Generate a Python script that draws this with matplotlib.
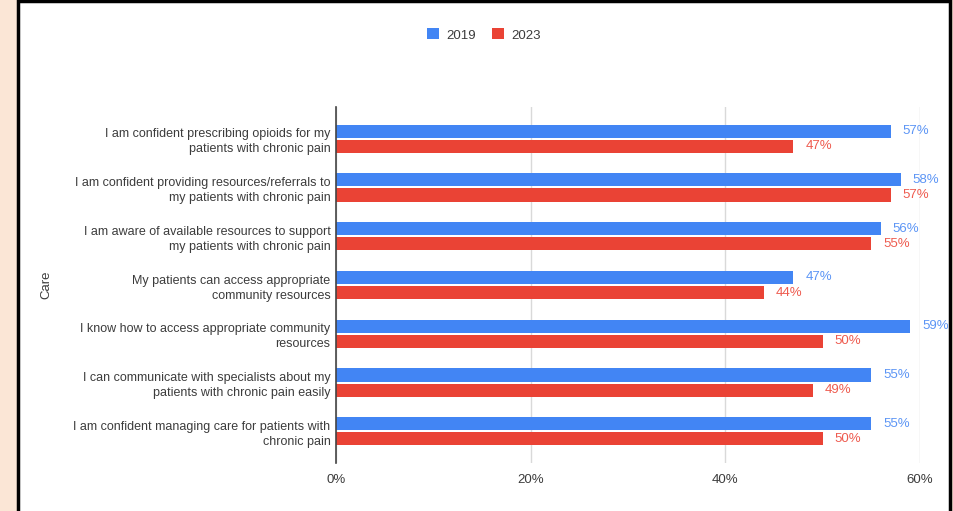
import matplotlib
matplotlib.use("Agg")
import matplotlib.pyplot as plt
from matplotlib.patches import Rectangle
import numpy as np

categories = [
    "I am confident prescribing opioids for my\npatients with chronic pain",
    "I am confident providing resources/referrals to\nmy patients with chronic pain",
    "I am aware of available resources to support\nmy patients with chronic pain",
    "My patients can access appropriate\ncommunity resources",
    "I know how to access appropriate community\nresources",
    "I can communicate with specialists about my\npatients with chronic pain easily",
    "I am confident managing care for patients with\nchronic pain",
]
values_2019 = [57, 58, 56, 47, 59, 55, 55]
values_2023 = [47, 57, 55, 44, 50, 49, 50]
series_names = ["2019", "2023"]
x_ticks = [0, 20, 40, 60]
x_tick_labels = ["0%", "20%", "40%", "60%"]

BLUE = "#4285F4"
RED = "#EA4335"
BLUE_TXT = "#5C95F5"
RED_TXT = "#EE5B4F"
TEXT = "#3c3c3c"

plt.rcParams['font.family'] = ['Liberation Sans', 'DejaVu Sans']

W, H = 954, 511
fig = plt.figure(figsize=(W / 100, H / 100), dpi=100)
fig.patch.set_facecolor("#FBE6D6")

# white card with a dark frame, kept behind the axes
card = Rectangle((17.5 / W, -0.05), (950 - 17.5) / W, 1.05 - 1.5 / H,
                 transform=fig.transFigure, facecolor="white",
                 edgecolor="black", linewidth=2.5, zorder=-10)
fig.patches.append(card)

ax = fig.add_axes([336 / W, 1 - 463 / H, (920 - 336) / W, (463 - 107) / H])
ax.set_zorder(5)
ax.set_facecolor("none")

y = np.arange(len(categories))
h = 0.27
off = 0.155
ax.barh(y - off, values_2019, height=h, color=BLUE, label=series_names[0], zorder=3)
ax.barh(y + off, values_2023, height=h, color=RED, label=series_names[1], zorder=3)

for yi, v in zip(y, values_2019):
    ax.annotate(f"{v}%", (v, yi - off), xytext=(8.5, 0), textcoords="offset points",
                va="center", ha="left", color=BLUE_TXT, fontsize=9.5)
for yi, v in zip(y, values_2023):
    ax.annotate(f"{v}%", (v, yi + off), xytext=(8.5, 0), textcoords="offset points",
                va="center", ha="left", color=RED_TXT, fontsize=9.5)

ax.set_ylim(len(categories) - 0.35, -0.65)
ax.set_xlim(0, 60)
ax.set_yticks(y)
ax.set_yticklabels(categories, fontsize=9, color=TEXT, linespacing=1.35)
ax.set_xticks(x_ticks)
ax.set_xticklabels(x_tick_labels, fontsize=9.5, color=TEXT)
ax.tick_params(axis="both", length=0)
ax.tick_params(axis="y", pad=4)
ax.tick_params(axis="x", pad=8)

ax.grid(axis="x", color="#d9d9d9", linewidth=1, zorder=0)
for s in ["top", "right", "bottom"]:
    ax.spines[s].set_visible(False)
ax.spines["left"].set_color("#444444")
ax.spines["left"].set_linewidth(1.2)
ax.spines["left"].set_zorder(4)

fig.text(46 / W, 1 - 285 / H, "Care", rotation=90, va="center", ha="center",
         fontsize=9.5, color=TEXT)

leg = fig.legend(loc="center", bbox_to_anchor=(484 / W, 1 - 35 / H), ncol=2,
                 frameon=False, fontsize=9.5, handlelength=0.9, handleheight=0.9,
                 columnspacing=1.2, handletextpad=0.6)
for t in leg.get_texts():
    t.set_color(TEXT)

fig.savefig("out.png", dpi=100, facecolor=fig.get_facecolor())
